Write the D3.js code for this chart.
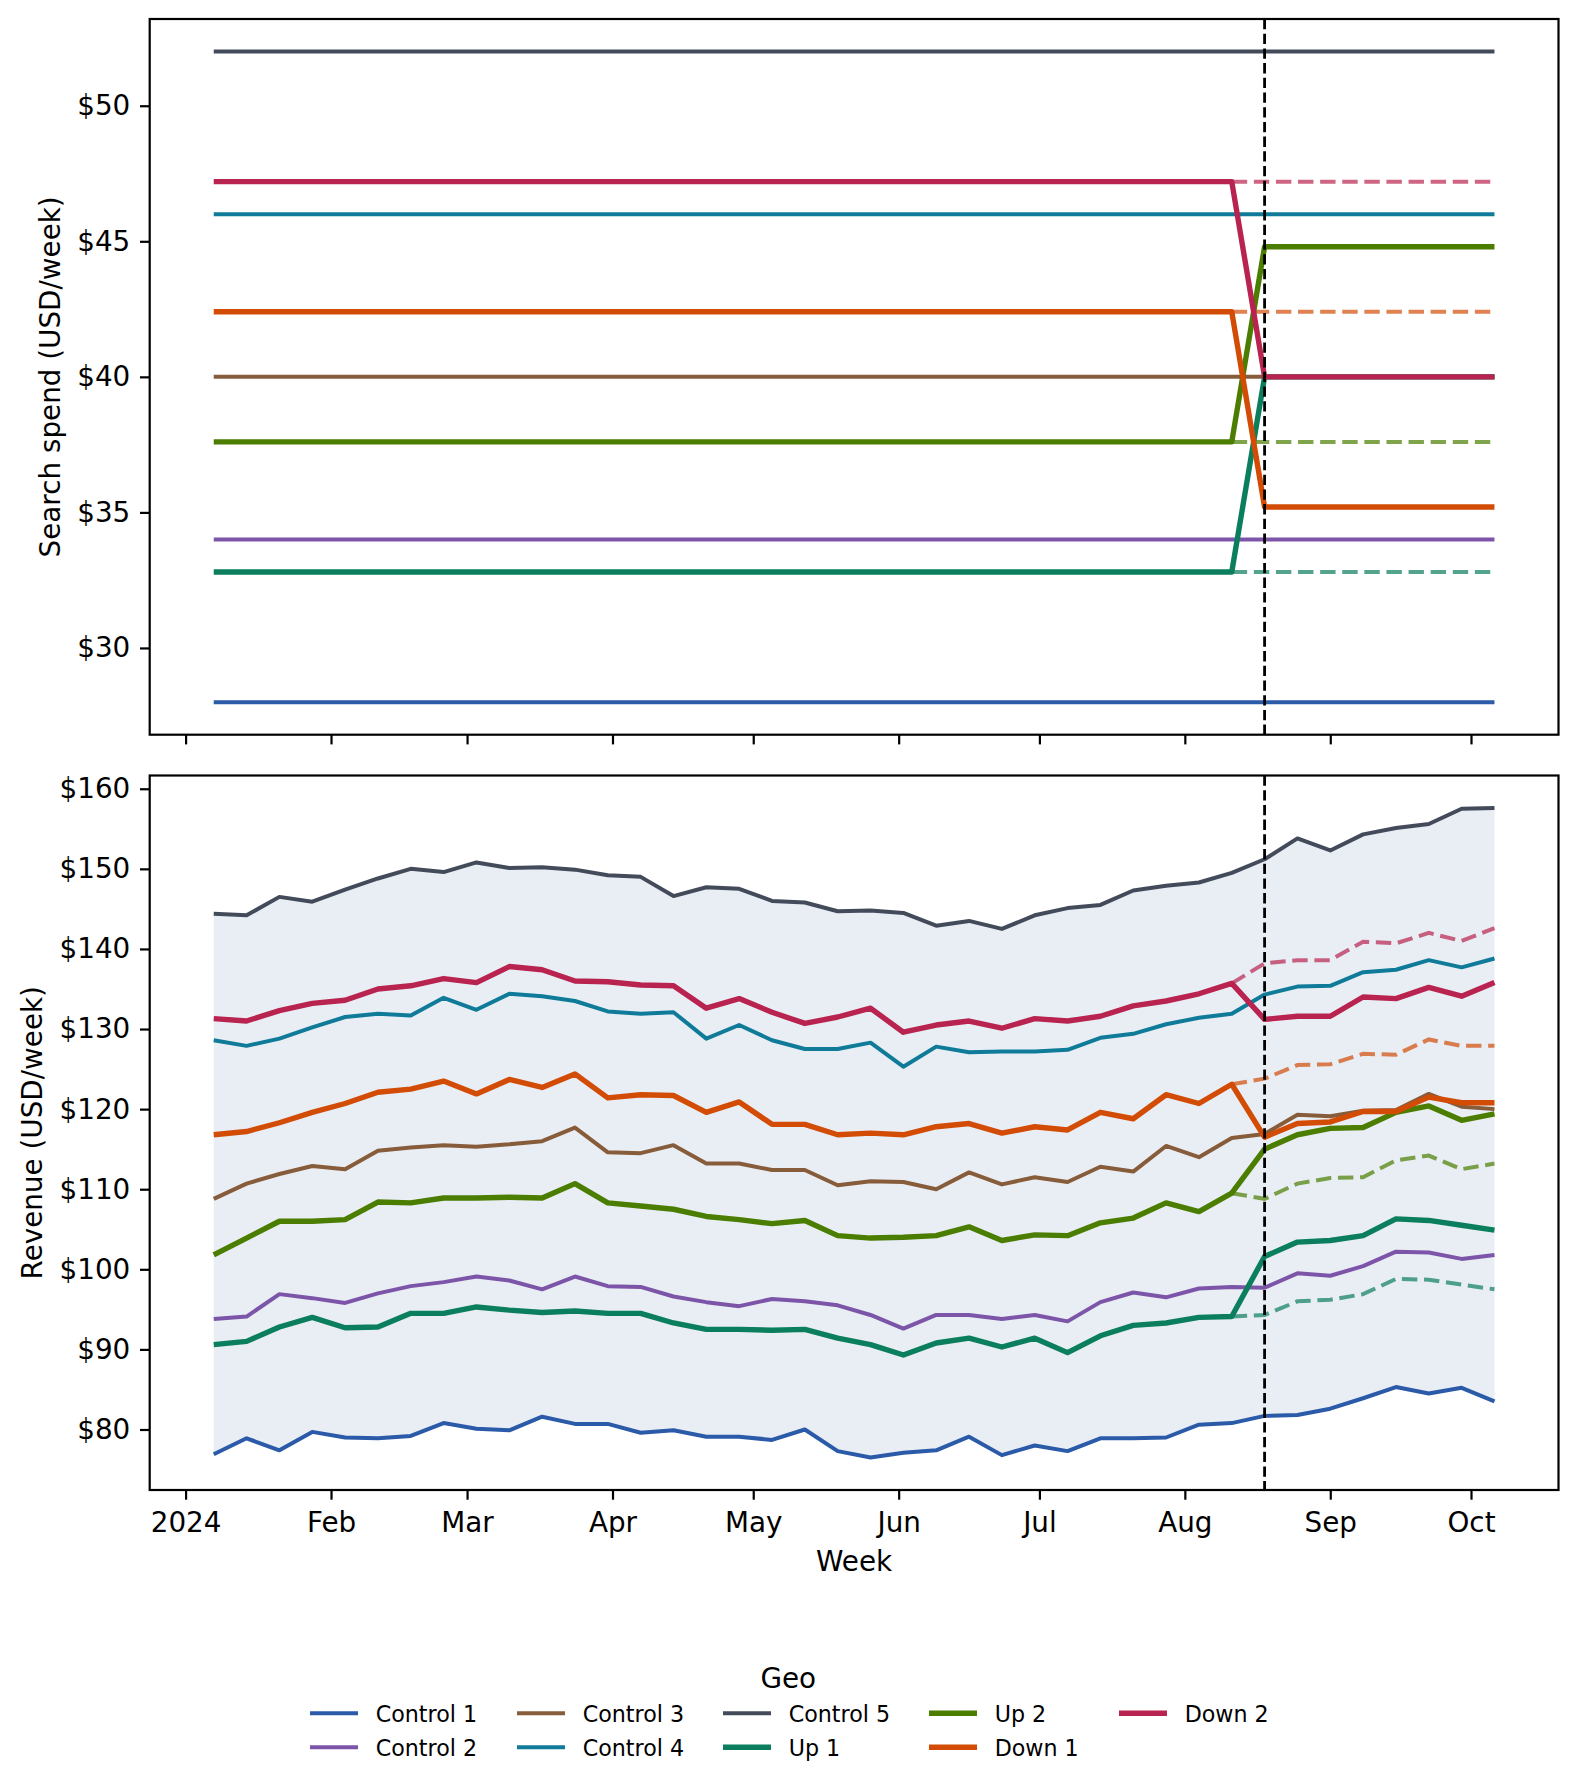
<!DOCTYPE html>
<html>
<head>
<meta charset="utf-8">
<script src="https://cdn.jsdelivr.net/npm/d3@7"></script>
<style>
  body { margin: 0; background: #fff; }
  text { font-family: "DejaVu Sans", sans-serif; fill: #000; }
</style>
</head>
<body>
<div id="chart"></div>
<script>
// ---- data ----
const firstWeek = "2024-01-07";
const lastWeek = "2024-10-06";
const testStart = "2024-08-18";   // first week with changed spend
const preTestWeek = "2024-08-11"; // counterfactual lines start here

const monthTicks = ["2024-01-01", "2024-02-01", "2024-03-01", "2024-04-01", "2024-05-01",
  "2024-06-01", "2024-07-01", "2024-08-01", "2024-09-01", "2024-10-01"];
const monthLabels = ["2024", "Feb", "Mar", "Apr", "May", "Jun", "Jul", "Aug", "Sep", "Oct"];

const spendTicks = [30, 35, 40, 45, 50];
const revenueTicks = [80, 90, 100, 110, 120, 130, 140, 150, 160];

const geos = ["Control 1", "Control 2", "Control 3", "Control 4", "Control 5", "Up 1", "Up 2", "Down 1", "Down 2"];
const geoColors = ["#2a5aa8", "#7d55a8", "#875c3a", "#0f7b98", "#434b5b", "#0b7e5d", "#4a7d00", "#d24c05", "#b8234f"];
const treated = [false, false, false, false, false, true, true, true, true];

const spendBefore = [28, 34, 40, 46, 52, 32.8, 37.6, 42.4, 47.2];
const spendAfter = [28, 34, 40, 46, 52, 40.0, 44.8, 35.2, 40.0];

const revControl1 = [76.9, 78.9, 77.4, 79.7, 79.0, 78.9, 79.2, 80.8, 80.1, 79.9, 81.6, 80.7, 80.7, 79.6, 79.9, 79.1, 79.1, 78.7, 80.0, 77.3,
  76.5, 77.1, 77.4, 79.1, 76.8, 78.0, 77.3, 78.9, 78.9, 79.0, 80.6, 80.8, 81.7, 81.8, 82.6, 83.9, 85.3, 84.5, 85.2, 83.5];
const revControl2 = [93.8, 94.1, 96.9, 96.4, 95.8, 97.0, 97.9, 98.4, 99.1, 98.6, 97.5, 99.1, 97.9, 97.8, 96.6, 95.9, 95.4, 96.3, 96.0, 95.5,
  94.3, 92.6, 94.3, 94.3, 93.8, 94.3, 93.5, 95.9, 97.1, 96.5, 97.6, 97.8, 97.7, 99.5, 99.2, 100.4, 102.2, 102.1, 101.3, 101.8];
const revControl3 = [108.8, 110.7, 111.9, 112.9, 112.5, 114.8, 115.2, 115.5, 115.3, 115.6, 116.0, 117.7, 114.6, 114.5, 115.5, 113.2, 113.2, 112.4, 112.4, 110.5,
  111.0, 110.9, 110.0, 112.1, 110.6, 111.5, 110.9, 112.8, 112.2, 115.4, 114.0, 116.4, 116.9, 119.3, 119.1, 119.8, 119.9, 121.9, 120.3, 120.0];
const revControl4 = [128.6, 127.9, 128.8, 130.2, 131.5, 131.9, 131.7, 133.9, 132.4, 134.4, 134.1, 133.5, 132.2, 131.9, 132.1, 128.8, 130.5, 128.6, 127.5, 127.5,
  128.3, 125.3, 127.8, 127.1, 127.2, 127.2, 127.4, 128.9, 129.4, 130.6, 131.4, 131.9, 134.3, 135.3, 135.4, 137.1, 137.4, 138.6, 137.7, 138.8];
const revControl5 = [144.4, 144.2, 146.5, 145.9, 147.4, 148.8, 150.0, 149.6, 150.8, 150.1, 150.2, 149.9, 149.2, 149.0, 146.6, 147.7, 147.5, 146.0, 145.8, 144.7,
  144.8, 144.5, 142.9, 143.5, 142.5, 144.2, 145.1, 145.5, 147.3, 147.9, 148.3, 149.5, 151.2, 153.8, 152.3, 154.3, 155.1, 155.6, 157.5, 157.6];
const revUp1 = [90.6, 91.0, 92.8, 94.0, 92.7, 92.8, 94.5, 94.5, 95.3, 94.9, 94.6, 94.8, 94.5, 94.5, 93.3, 92.5, 92.5, 92.4, 92.5, 91.4,
  90.6, 89.3, 90.8, 91.4, 90.3, 91.4, 89.6, 91.7, 93.0, 93.3, 94.0, 94.1, 101.6, 103.4, 103.6, 104.2, 106.3, 106.1, 105.5, 104.9];
const revUp2 = [101.8, 103.9, 106.0, 106.0, 106.2, 108.4, 108.3, 108.9, 108.9, 109.0, 108.9, 110.7, 108.3, 107.9, 107.5, 106.6, 106.2, 105.7, 106.1, 104.2,
  103.9, 104.0, 104.2, 105.3, 103.6, 104.3, 104.2, 105.8, 106.4, 108.3, 107.2, 109.5, 115.0, 116.8, 117.6, 117.7, 119.6, 120.4, 118.6, 119.4];
const revDown1 = [116.8, 117.2, 118.3, 119.6, 120.7, 122.1, 122.5, 123.5, 121.9, 123.7, 122.7, 124.4, 121.4, 121.8, 121.7, 119.6, 120.9, 118.1, 118.1, 116.8,
  117.0, 116.8, 117.8, 118.2, 117.0, 117.8, 117.4, 119.6, 118.8, 121.8, 120.7, 123.1, 116.5, 118.2, 118.4, 119.7, 119.7, 121.5, 120.8, 120.8];
const revDown2 = [131.3, 131.0, 132.3, 133.2, 133.6, 135.0, 135.4, 136.3, 135.8, 137.8, 137.4, 136.0, 135.9, 135.5, 135.4, 132.6, 133.8, 132.1, 130.7, 131.5,
  132.6, 129.6, 130.5, 131.0, 130.1, 131.3, 131.0, 131.6, 132.9, 133.5, 134.4, 135.7, 131.2, 131.6, 131.6, 134.0, 133.8, 135.2, 134.1, 135.8];

// counterfactual revenue, from the week before the test to the end
const cfUp1 = [94.1, 94.3, 96.0, 96.2, 96.9, 98.8, 98.7, 98.1, 97.5];
const cfUp2 = [109.5, 108.8, 110.7, 111.4, 111.5, 113.6, 114.2, 112.5, 113.2];
const cfDown1 = [123.1, 123.8, 125.5, 125.6, 126.9, 126.8, 128.7, 127.9, 127.9];
const cfDown2 = [135.7, 138.2, 138.6, 138.6, 140.9, 140.7, 142.0, 141.0, 142.6];

const revenue = [revControl1, revControl2, revControl3, revControl4, revControl5, revUp1, revUp2, revDown1, revDown2];
const counterfactual = [null, null, null, null, null, cfUp1, cfUp2, cfDown1, cfDown2];

// ---- layout ----
const W = 1579, H = 1789;
const X0 = 149.7, X1 = 1558.5;
const topY0 = 19, topY1 = 734.7;
const botY0 = 775.5, botY1 = 1490;
const fontMain = 27.8, fontLegend = 22.2;

const parse = d3.utcParse("%Y-%m-%d");
const weeks = d3.utcWeek.range(parse(firstWeek), d3.utcDay.offset(parse(lastWeek), 1));
const tStart = parse(testStart);
const tPre = parse(preTestWeek);
const cfWeeks = weeks.filter(d => d >= tPre);

function padded (lo, hi) {
  const m = (hi - lo) * 0.05;
  return [lo - m, hi + m];
}

const tLo = +weeks[0], tHi = +weeks[weeks.length - 1];
const x = d3.scaleUtc()
  .domain(padded(tLo, tHi).map(t => new Date(t)))
  .range([X0, X1]);

const yTop = d3.scaleLinear()
  .domain(padded(d3.min(spendBefore.concat(spendAfter)), d3.max(spendBefore.concat(spendAfter))))
  .range([topY1, topY0]);

const allRev = revenue.flat().concat(counterfactual.filter(c => c).flat());
const yBot = d3.scaleLinear()
  .domain(padded(d3.min(allRev), d3.max(allRev)))
  .range([botY1, botY0]);

const svg = d3.select("#chart").append("svg")
  .attr("width", W)
  .attr("height", H);

const ctrlWidth = 4.0, treatWidth = 5.4, cfWidth = 4.0;
const cfDash = "15.4,6.7";

//Spend panel
const spendLine = d3.line().x(d => x(d.t)).y(d => yTop(d.v));
const gTop = svg.append("g");

geos.forEach(function (g, i) {
  if (!treated[i]) return;
  gTop.append("path")
    .datum(cfWeeks.map(t => ({t: t, v: spendBefore[i]})))
    .attr("d", spendLine)
    .attr("fill", "none")
    .attr("stroke", geoColors[i])
    .attr("stroke-opacity", 0.7)
    .attr("stroke-width", cfWidth)
    .attr("stroke-dasharray", cfDash);
});

geos.forEach(function (g, i) {
  let series = weeks.map(t => ({t: t, v: t < tStart ? spendBefore[i] : spendAfter[i]}));
  gTop.append("path")
    .datum(series)
    .attr("d", spendLine)
    .attr("fill", "none")
    .attr("stroke", geoColors[i])
    .attr("stroke-width", treated[i] ? treatWidth : ctrlWidth)
    .attr("stroke-linejoin", "round");
});

//Revenue panel
const revLine = d3.line().x(d => x(d.t)).y(d => yBot(d.v));
const gBot = svg.append("g");

const band = d3.area()
  .x((d, i) => x(weeks[i]))
  .y0((d, i) => yBot(d3.min(revenue, r => r[i])))
  .y1((d, i) => yBot(d3.max(revenue, r => r[i])));

gBot.append("path")
  .datum(weeks)
  .attr("d", band)
  .attr("fill", "#4c72b0")
  .attr("fill-opacity", 0.12);

geos.forEach(function (g, i) {
  if (!counterfactual[i]) return;
  gBot.append("path")
    .datum(counterfactual[i].map((v, k) => ({t: cfWeeks[k], v: v})))
    .attr("d", revLine)
    .attr("fill", "none")
    .attr("stroke", geoColors[i])
    .attr("stroke-opacity", 0.7)
    .attr("stroke-width", cfWidth)
    .attr("stroke-dasharray", cfDash);
});

geos.forEach(function (g, i) {
  gBot.append("path")
    .datum(revenue[i].map((v, k) => ({t: weeks[k], v: v})))
    .attr("d", revLine)
    .attr("fill", "none")
    .attr("stroke", geoColors[i])
    .attr("stroke-width", treated[i] ? treatWidth : ctrlWidth)
    .attr("stroke-linejoin", "round");
});

//Test start markers
[[topY0, topY1], [botY0, botY1]].forEach(function (r) {
  svg.append("line")
    .attr("x1", x(tStart)).attr("x2", x(tStart))
    .attr("y1", r[0]).attr("y2", r[1])
    .attr("stroke", "#000")
    .attr("stroke-width", 2.8)
    .attr("stroke-dasharray", "10.3,4.4");
});

//Axes
const tickVals = monthTicks.map(parse);
const usd = d => "$" + d;

function styleAxis (g) {
  g.select(".domain").remove();
  g.selectAll(".tick line").attr("stroke", "#000").attr("stroke-width", 2.2);
  g.selectAll(".tick text").attr("font-size", fontMain).attr("font-family", "DejaVu Sans");
}

svg.append("g")
  .attr("transform", "translate(" + X0 + ",0)")
  .call(d3.axisLeft(yTop).tickValues(spendTicks).tickFormat(usd).tickSize(9.7).tickPadding(9.7))
  .call(styleAxis);

svg.append("g")
  .attr("transform", "translate(0," + topY1 + ")")
  .call(d3.axisBottom(x).tickValues(tickVals).tickFormat("").tickSize(9.7))
  .call(styleAxis);

svg.append("g")
  .attr("transform", "translate(" + X0 + ",0)")
  .call(d3.axisLeft(yBot).tickValues(revenueTicks).tickFormat(usd).tickSize(9.7).tickPadding(9.7))
  .call(styleAxis);

svg.append("g")
  .attr("transform", "translate(0," + botY1 + ")")
  .call(d3.axisBottom(x).tickValues(tickVals).tickFormat((d, i) => monthLabels[i]).tickSize(9.7).tickPadding(12.6))
  .call(styleAxis);

//Spines
[[topY0, topY1], [botY0, botY1]].forEach(function (r) {
  svg.append("rect")
    .attr("x", X0).attr("y", r[0])
    .attr("width", X1 - X0).attr("height", r[1] - r[0])
    .attr("fill", "none")
    .attr("stroke", "#000")
    .attr("stroke-width", 2.2);
});

//Axis labels
svg.append("text")
  .attr("transform", "translate(60," + (topY0 + topY1) / 2 + ") rotate(-90)")
  .attr("text-anchor", "middle")
  .attr("font-size", fontMain)
  .text("Search spend (USD/week)");

svg.append("text")
  .attr("transform", "translate(42.4," + (botY0 + botY1) / 2 + ") rotate(-90)")
  .attr("text-anchor", "middle")
  .attr("font-size", fontMain)
  .text("Revenue (USD/week)");

svg.append("text")
  .attr("x", (X0 + X1) / 2)
  .attr("y", 1571)
  .attr("text-anchor", "middle")
  .attr("font-size", fontMain)
  .text("Week");

//Legend
const legendCols = [310, 517, 723, 929, 1119];
const legendRows = [1713.3, 1747.3];
const legend = svg.append("g");

legend.append("text")
  .attr("x", 788.3)
  .attr("y", 1687.5)
  .attr("text-anchor", "middle")
  .attr("font-size", fontMain)
  .text("Geo");

geos.forEach(function (g, i) {
  let cx = legendCols[Math.floor(i / 2)];
  let cy = legendRows[i % 2];
  legend.append("line")
    .attr("x1", cx).attr("x2", cx + 48)
    .attr("y1", cy).attr("y2", cy)
    .attr("stroke", geoColors[i])
    .attr("stroke-width", treated[i] ? treatWidth : ctrlWidth);
  legend.append("text")
    .attr("x", cx + 65.7)
    .attr("y", cy + 8.2)
    .attr("font-size", fontLegend)
    .text(g);
});
</script>
</body>
</html>
